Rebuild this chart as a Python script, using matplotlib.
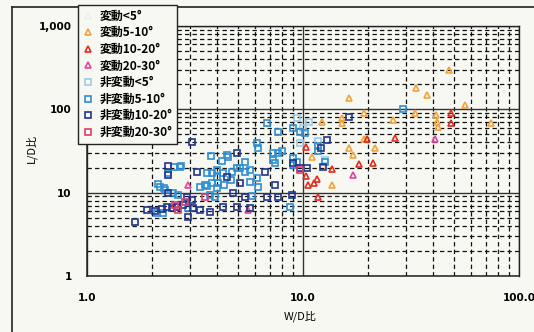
import matplotlib
matplotlib.use("Agg")
import matplotlib.pyplot as plt
from matplotlib.lines import Line2D
from matplotlib.ticker import FixedLocator, NullFormatter, LogLocator

plt.rcParams['font.family'] = ['Noto Sans CJK JP', 'DejaVu Sans']

# ---- data: W/D ratio (x) and L/D ratio (y) ----
v5_10_x = [16.3, 19.2, 15.2, 12.2, 26.1, 19.2, 21.5, 16.4, 17.0, 13.6, 11.0,
           47.4, 33.4, 37.5, 56.0, 33.0, 41.3, 41.6, 42.0, 74.0, 15.2]
v5_10_y = [135, 90, 68, 70, 74, 44, 34, 34, 28, 12.3, 26.6,
           293, 178, 147, 112, 90, 85, 70, 61, 68, 78]

v10_20_x = [19.8, 26.7, 18.2, 21.1, 13.6, 11.6, 11.2, 10.5, 10.3, 11.7, 10.3, 48.4, 48.4]
v10_20_y = [44, 45, 22, 22.6, 19.1, 14.5, 13.0, 12.3, 15.8, 8.8, 35, 90, 68]

v20_30_x = [17.0, 40.8, 5.56, 2.94]
v20_30_y = [16.2, 44, 6.2, 12.3]

nv0_5_x = [9.4, 10.7, 11.7, 12.6, 9.7, 10.0]
nv0_5_y = [78, 70, 42, 24.5, 39, 59]

nv5_10_x = [3.75, 4.22, 4.45, 2.37, 2.53, 2.72, 3.79, 4.0, 4.26, 2.13, 2.27, 2.5, 2.64,
            3.34, 3.59, 3.79, 4.04, 4.31, 4.64, 3.71, 3.91, 2.11, 2.25, 2.94, 2.18, 2.3,
            2.7, 3.52, 4.0, 3.59, 4.0, 4.95, 5.39, 5.68, 6.81, 9.0, 9.7, 10.2, 7.66,
            6.12, 6.2, 7.26, 7.66, 8.0, 4.5, 9.0, 9.4, 7.26, 7.42, 5.39, 5.68, 5.11,
            4.69, 6.12, 6.2, 5.8, 8.7, 29.0, 11.7, 11.7, 12.6, 9.0]
nv5_10_y = [27.4, 23.8, 28, 17.1, 20.2, 20.8, 17.1, 15.3, 17.1, 12.6, 11.3, 9.9, 9.3,
            11.6, 12, 13, 13, 12.3, 14.1, 9.3, 8.8, 5.7, 5.7, 6.5, 11.6, 10.7,
            20.2, 12.3, 11.3, 17.1, 18.6, 19.7, 17.6, 13.3, 68, 59, 53, 52, 53,
            39, 34, 29.7, 29.7, 32, 26.6, 25.9, 23.2, 24.5, 22.6, 23.2, 18.6, 19.7,
            17.6, 14.9, 11.6, 9.1, 6.7, 100, 36, 31.3, 23.2, 21.3]

nv10_20_x = [3.06, 3.23, 2.9, 3.06, 1.9, 2.06, 2.22, 2.35, 2.47, 2.61, 2.78, 1.67,
             3.71, 4.26, 2.94, 2.37, 2.37, 2.37, 4.95, 4.74, 5.11, 4.95, 6.67, 7.42,
             4.45, 5.39, 6.81, 9.0, 10.4, 8.9, 12.9, 12.1, 16.3, 12.4, 9.7, 7.66,
             5.68, 3.1, 3.34]
nv10_20_y = [40, 17.6, 8.8, 8.1, 6.2, 6.0, 6.3, 6.7, 6.5, 6.7, 7.1, 4.4,
             5.8, 6.7, 5.1, 20.8, 16.2, 10, 6.7, 9.9, 13, 29.7, 17.6, 12.3,
             15.3, 8.8, 8.8, 22.6, 19.7, 9.3, 42.6, 34, 80, 20.2, 19.7, 8.8,
             6.5, 6.5, 6.2]

nv20_30_x = [2.84, 2.64, 3.5, 9.7, 2.55]
nv20_30_y = [7.7, 6.2, 8.8, 18.6, 7.1]

labels = ['変動<5°', '変動5-10°', '変動10-20°', '変動20-30°',
          '非変動<5°', '非変動5-10°', '非変動10-20°', '非変動20-30°']
x_ticks = [1, 10, 100]
x_ticklabels = ['1.0', '10.0', '100.0']
y_ticks = [1, 10, 100, 1000]
y_ticklabels = ['1', '10', '100', '1,000']

bg = '#f8f8f3'
fig = plt.figure(figsize=(5.34, 3.32), dpi=100, facecolor=bg)
ax = fig.add_axes([87/534, 1-276/332, (519-87)/534, (276-26)/332])
ax.set_facecolor(bg)
ax.set_xscale('log')
ax.set_yscale('log')
ax.set_xlim(1, 100)
ax.set_ylim(1, 1000)

# grid
ax.xaxis.set_major_locator(FixedLocator(x_ticks))
ax.yaxis.set_major_locator(FixedLocator(y_ticks))
ax.xaxis.set_minor_locator(LogLocator(base=10, subs=range(2, 10)))
ax.yaxis.set_minor_locator(LogLocator(base=10, subs=range(2, 10)))
ax.xaxis.set_minor_formatter(NullFormatter())
ax.yaxis.set_minor_formatter(NullFormatter())
ax.grid(which='major', color='#333333', lw=1.0, ls='-')
ax.grid(which='minor', color='#111111', lw=0.9, ls=(0, (3.5, 2.5)))
ax.set_axisbelow(True)
ax.tick_params(which='both', length=0)
ax.set_xticklabels(x_ticklabels, fontsize=7.5, fontweight='bold', family='DejaVu Sans')
ax.set_yticklabels(y_ticklabels, fontsize=7.5, fontweight='bold', family='DejaVu Sans')
ax.tick_params(axis='x', pad=12)
ax.tick_params(axis='y', pad=11)
for s in ['left', 'bottom']:
    ax.spines[s].set_linewidth(1.1)
    ax.spines[s].set_color('#222222')
for s in ['top', 'right']:
    ax.spines[s].set_linewidth(1.0)
    ax.spines[s].set_linestyle((0, (2, 1)))
    ax.spines[s].set_color('#222222')

ax.set_xlabel('W/D比', fontsize=8)
ax.set_ylabel('L/D比', fontsize=8)
ax.xaxis.set_label_coords((300-87)/432, (276-316)/250)
ax.yaxis.set_label_coords((31-87)/432, (276-148)/250)
ax.xaxis.label.set_verticalalignment('center')
ax.yaxis.label.set_verticalalignment('center')

ms = 4.5
mew = 1.2
series = [
    ([], [], '^', '#eeeeee'),
    (v5_10_x, v5_10_y, '^', '#f2a33a'),
    (v10_20_x, v10_20_y, '^', '#e52a1e'),
    (v20_30_x, v20_30_y, '^', '#e0449c'),
    (nv0_5_x, nv0_5_y, 's', '#9ccbe6'),
    (nv5_10_x, nv5_10_y, 's', '#2f8fd3'),
    (nv10_20_x, nv10_20_y, 's', '#22348e'),
    (nv20_30_x, nv20_30_y, 's', '#d9406e'),
]
handles = []
for (xs, ys, m, c), lab in zip(series, labels):
    ax.plot(xs, ys, ls='none', marker=m, ms=ms, mfc='none', mec=c, mew=mew)
    handles.append(Line2D([], [], ls='none', marker=m, ms=ms, mfc='none', mec=c,
                          mew=mew, label=lab))

leg = fig.legend(handles=handles, loc='upper left', bbox_to_anchor=(78/534, 1-5/332),
                 frameon=True, fancybox=False, edgecolor='#222222', facecolor=bg,
                 framealpha=1, prop={'weight': 'bold', 'size': 8.6},
                 handlelength=0.8, handletextpad=0.6, labelspacing=0.3,
                 borderpad=0.4, borderaxespad=0)
leg.get_frame().set_linewidth(1.0)

# scan frame lines
fig.add_artist(Line2D([12/534, 12/534], [0, 1-7/332], color='#222222', lw=1.2,
                      transform=fig.transFigure))
fig.add_artist(Line2D([12/534, 1], [1-7/332, 1-7/332], color='#222222', lw=1.2,
                      transform=fig.transFigure))

fig.savefig('out.png', dpi=100, facecolor=bg)
